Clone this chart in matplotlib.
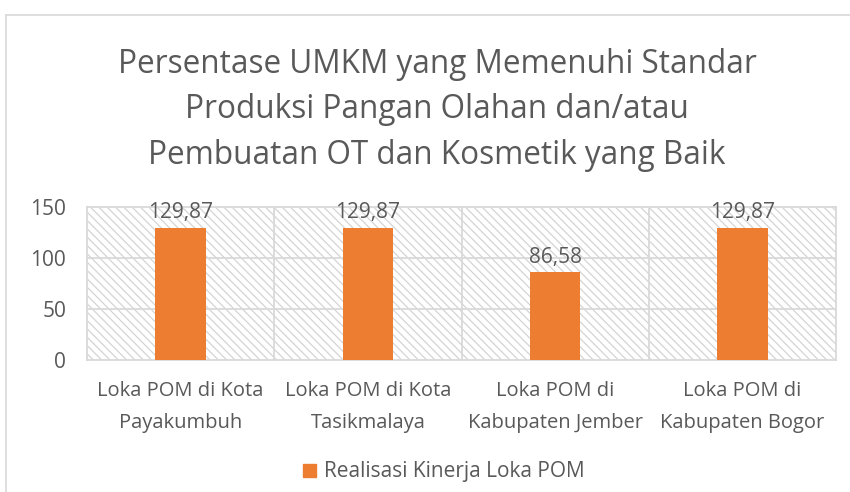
import matplotlib
matplotlib.use("Agg")
import matplotlib.pyplot as plt
from matplotlib.patches import Rectangle
from matplotlib.lines import Line2D

categories = ["Loka POM di Kota\nPayakumbuh", "Loka POM di Kota\nTasikmalaya",
              "Loka POM di\nKabupaten Jember", "Loka POM di\nKabupaten Bogor"]
values = [129.87, 129.87, 86.58, 129.87]
value_labels = ["129,87", "129,87", "86,58", "129,87"]
series_name = "Realisasi Kinerja Loka POM"
title = "Persentase UMKM yang Memenuhi Standar\nProduksi Pangan Olahan dan/atau\nPembuatan OT dan Kosmetik yang Baik"
yticks = [0, 50, 100, 150]

plt.rcParams['font.family'] = ['Open Sans', 'DejaVu Sans']
TXT = '#595959'
GRID = '#d9d9d9'
BAR = '#ed7d31'
plt.rcParams['hatch.color'] = '#d4d4d4'
plt.rcParams['hatch.linewidth'] = 0.9

fig = plt.figure(figsize=(8.5, 4.92), dpi=100)
# chart border (top and left visible)
fig.add_artist(Line2D([6/850, 6/850], [0, 1 - 15/492], color=GRID, lw=1.2, transform=fig.transFigure))
fig.add_artist(Line2D([6/850, 1], [1 - 15/492, 1 - 15/492], color=GRID, lw=1.2, transform=fig.transFigure))

ax = fig.add_axes([87/850, 132/492, 749/850, 153/492])
ax.set_xlim(-0.5, 3.5)
ax.set_ylim(0, 150)

ax.add_patch(Rectangle((0, 0), 1, 1, transform=ax.transAxes, facecolor='white',
                       edgecolor='#d4d4d4', hatch='\\\\\\\\', lw=0, zorder=0))

for y in [50, 100]:
    ax.axhline(y, color=GRID, lw=1.3, zorder=1)
for x in [0.5, 1.5, 2.5]:
    ax.axvline(x, color=GRID, lw=1.3, zorder=1)

xs = list(range(len(categories)))
ax.bar(xs, values, width=0.27, color=BAR, zorder=3, label=series_name)
for x, v, lab in zip(xs, values, value_labels):
    ax.annotate(lab, (x, v), xytext=(0, 3), textcoords='offset points',
                ha='center', va='bottom', fontsize=15, color=TXT)

for s in ax.spines.values():
    s.set_color(GRID)
    s.set_linewidth(1.3)

ax.set_xticks(xs)
ax.set_xticklabels(categories, fontsize=14.5, color=TXT, linespacing=1.8)
ax.set_yticks(yticks)
ax.set_yticklabels([str(t) for t in yticks], fontsize=15, color=TXT)
ax.tick_params(length=0, axis='y', pad=15)
ax.tick_params(length=0, axis='x', pad=15)

fig.text(437/850, 1 - 110/492, title, ha='center', va='center', fontsize=22.7,
         color=TXT, linespacing=1.5)

handle = Rectangle((0, 0), 1, 1, color=BAR)
fig.legend([handle], [series_name], loc='center', bbox_to_anchor=(444/850, 1 - 472/492),
           frameon=False, fontsize=15, labelcolor=TXT, handlelength=0.6, handleheight=0.6,
           handletextpad=0.4)

fig.savefig('out.png', dpi=100)
